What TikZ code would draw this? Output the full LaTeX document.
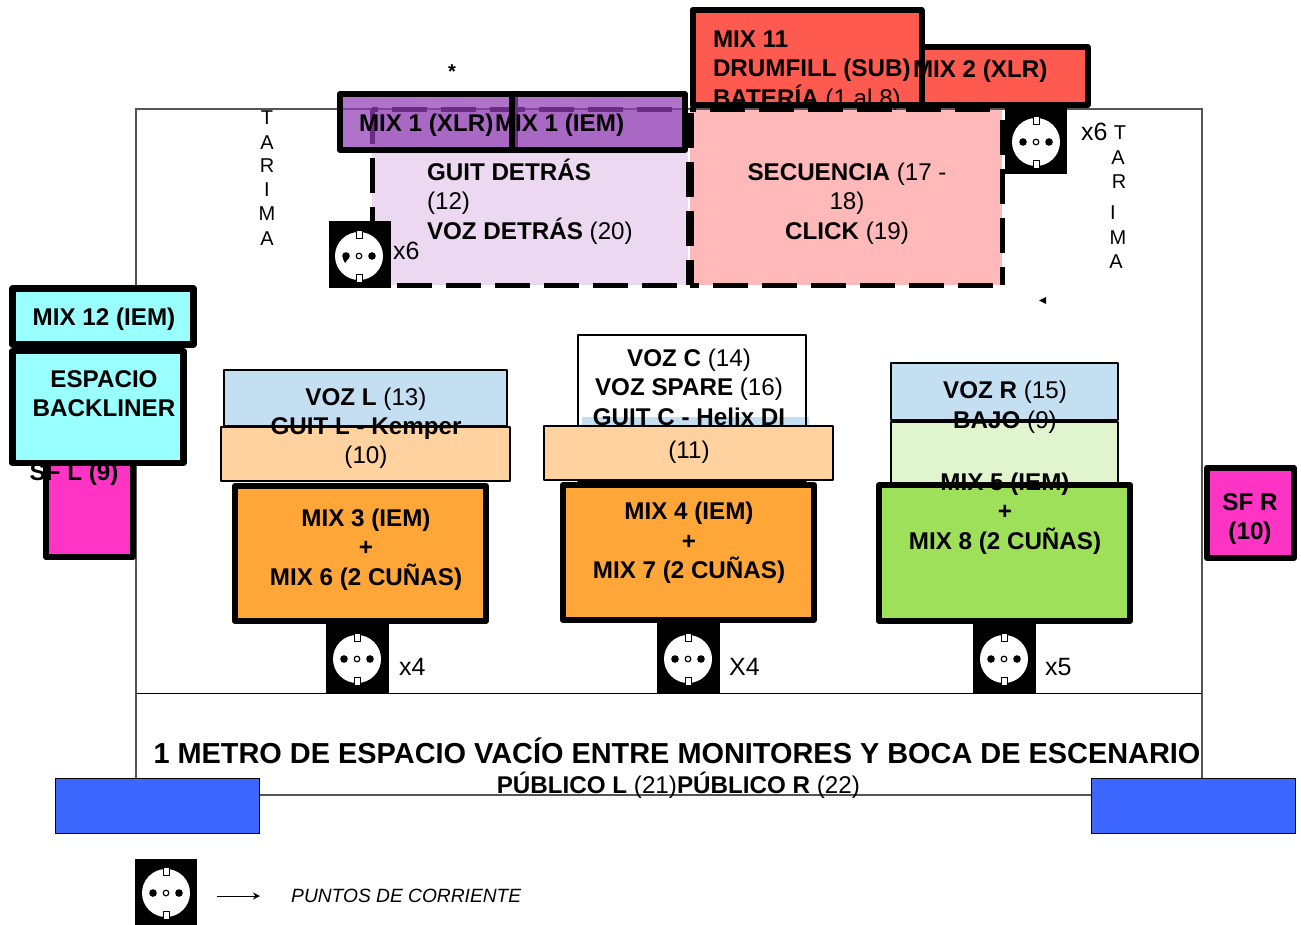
\documentclass[tikz,border=0pt]{standalone}
\usepackage{fontspec}
\setmainfont{Liberation Sans}
\usetikzlibrary{arrows.meta}
\definecolor{stagegray}{HTML}{555555}
\definecolor{lav}{HTML}{ECD9F1}
\definecolor{pinkb}{HTML}{FFB9B9}
\definecolor{purp}{HTML}{923FB5}
\definecolor{redb}{HTML}{FF5A50}
\definecolor{cyanb}{HTML}{99FFFF}
\definecolor{magb}{HTML}{FF33C4}
\definecolor{blueb}{HTML}{C5DFF2}
\definecolor{peach}{HTML}{FFD2A0}
\definecolor{orangeb}{HTML}{FFA638}
\definecolor{lgreen}{HTML}{E0F5CE}
\definecolor{dgreen}{HTML}{9FE05A}
\definecolor{royal}{HTML}{3D66FF}
\newcommand{\outlet}[6]{%
  \fill[black] (#1,#2) rectangle (#3,#4);
  \begin{scope}[shift={(#5,#6)}]
    \fill[white] (0,0) circle[radius=24];
    \path[fill=white,draw=black,line width=.6pt] (-3,-26) rectangle (3,-18);
    \path[fill=white,draw=black,line width=.6pt] (-3,18) rectangle (3,26);
    \fill[black] (-13,0) circle[radius=3.8];
    \fill[black] (13,0) circle[radius=3.8];
    \path[fill=white,draw=black,line width=1.2pt] (0,0) circle[radius=2.8];
  \end{scope}}
\tikzset{
  x=1pt,y=-1pt,
  heavy/.style={draw=black,line width=6pt,line join=round},
  thinbox/.style={draw=black,line width=2pt,line join=round},
  dashbox/.style={draw=black,line width=5pt,dash pattern=on 35pt off 14pt},
  lbl/.style={inner sep=0pt,outer sep=0pt,yshift=-2pt,align=center,font=\fontsize{24.2}{29.5}\selectfont},
  lbll/.style={lbl,align=left},
  tar/.style={inner sep=0pt,font=\fontsize{20}{24}\selectfont},
  cnt/.style={inner sep=0pt,font=\fontsize{25}{29}\selectfont},
}
\begin{document}
\begin{tikzpicture}
\useasboundingbox (0,0) rectangle (1301,924);
\draw[stagegray,line width=1.5pt] (136,109) rectangle (1202,795);
\draw[black,line width=1pt] (136,693) -- (1202,693);

% top red monitors
\path[heavy,fill=redb] (692.5,10) rectangle (921.5,105);
\node[lbll,anchor=north west] (mixeleven) at (713,28.5) {\textbf{MIX 11}\\\textbf{DRUMFILL (SUB)}\\\textbf{BATERÍA} (1 al 8)};
\path[heavy,fill=redb] (921.5,47) rectangle (1087.5,105);
\node[lbl,anchor=west] (mixtwo) at (913,69) {\textbf{MIX 2 (XLR)}};
\draw[heavy,fill=none] (921.5,105) -- (921.5,47);

% outlet top right
\outlet{1005}{103}{1067}{174}{1036}{142}
\node[cnt,anchor=west] (xsixa) at (1081,132) {x6};

% sequencer zone
\fill[pinkb] (690,110) rectangle (1002,285);
\draw[dashbox,dash phase=26pt] (690,285) -- (1002,285);
\draw[dashbox,dash phase=17pt] (1002,285) -- (1002,109);
\draw[dashbox,dash phase=29pt] (690,109) -- (1002,109);
\draw[dashbox,dash phase=10pt] (691,285) -- (691,109);
\node[lbl] (secuencia) at (847,201.5) {\textbf{SECUENCIA} (17 -\\18)\\\textbf{CLICK} (19)};

% guitar zone
\fill[lav] (372,110) rectangle (688,285);
\draw[dashbox,dash phase=24pt] (372,285) -- (688,285);
\draw[dashbox,dash phase=10pt] (688,285) -- (688,109);
\draw[dashbox,dash phase=29pt] (372,109) -- (688,109);
\draw[dashbox,dash phase=6pt] (372,285) -- (372,107);
\node[lbll,anchor=west] (guitdetras) at (427,199.5) {\textbf{GUIT DETRÁS}\\(12)\\\textbf{VOZ DETRÁS} (20)};

% outlet lavender
\outlet{329}{221}{391}{288}{359}{256}
\fill[black] (346,257) -- (343,259) -- (345,263) -- (348,259) -- cycle;
\node[cnt,anchor=west] (xsixb) at (393,251) {x6};

% purple monitors
\path[heavy,fill=purp,fill opacity=.73] (340,94) rectangle (515,150);
\node[lbl,anchor=west] (mixonex) at (359,123) {\textbf{MIX 1 (XLR)}};
\path[heavy,fill=purp,fill opacity=.73] (511.5,94) rectangle (685,150);
\node[lbl,anchor=west] (mixonei) at (495,123) {\textbf{MIX 1 (IEM)}};
\node[inner sep=0pt,font=\fontsize{20}{24}\selectfont\bfseries] (star) at (452,72) {*};

% tarima labels
\node[tar] (ta) at (267,118) {T};
\node[tar] (tb) at (267,143) {A};
\node[tar] (tc) at (267,166) {R};
\node[tar] (td) at (267,190) {I};
\node[tar] (te) at (267,214) {M};
\node[tar] (tf) at (267,239) {A};
\node[tar] (ua) at (1120,133) {T};
\node[tar] (ub) at (1118,158) {A};
\node[tar] (uc) at (1119,182) {R};
\node[tar] (ud) at (1113,213) {I};
\node[tar] (ue) at (1118,238) {M};
\node[tar] (uf) at (1116,262) {A};
\fill[black] (1039,300.5) -- (1046,297) -- (1046,304) -- cycle;

% side left
\path[heavy,fill=magb] (46,463) rectangle (133,557);
\node[lbl] (sfl) at (74,472) {\textbf{SF L (9)}};
\path[heavy,line width=6.5pt,fill=cyanb] (12.5,288.5) rectangle (193.5,344.5);
\node[lbl] (mixtwelve) at (104,317) {\textbf{MIX 12 (IEM)}};
\path[heavy,line width=6.5pt,fill=cyanb] (12.5,351) rectangle (183.5,463);
\node[lbl] (backliner) at (104,391.5) {\textbf{ESPACIO}\\\textbf{BACKLINER}};

% side right
\path[heavy,fill=magb] (1207,468) rectangle (1294,558);
\node[lbl] (sfr) at (1250,517) {\textbf{SF R}\\\textbf{(10)}};

% left group
\path[thinbox,fill=blueb] (224,370) rectangle (507,426);
\node[lbl] (vozl) at (366,397) {\textbf{VOZ L} (13)};
\path[thinbox,fill=peach] (221,427) rectangle (510,481);
\node[lbl] (guitl) at (366,441) {\textbf{GUIT L - Kemper}\\(10)};
\outlet{326}{623}{389}{693}{357}{659}
\node[cnt,anchor=west] (xfoura) at (399,667) {x4};
\path[heavy,fill=orangeb] (235,486) rectangle (486,621);
\node[lbl] (mixthree) at (366,547.5) {\textbf{MIX 3 (IEM)}\\\textbf{+}\\\textbf{MIX 6 (2 CUÑAS)}};

% centre group
\fill[white] (578,334) rectangle (806,481);
\fill[blueb] (582,417) rectangle (809,426);
\draw[thinbox] (578,335) rectangle (806,481);
\path[thinbox,fill=peach] (544,426) rectangle (833,480);
\node[lbl,anchor=north] (vozc) at (689,346.5) {\textbf{VOZ C} (14)\\\textbf{VOZ SPARE} (16)\\\textbf{GUIT C - Helix DI}};
\node[lbl] (guitc) at (689,450) {(11)};
\outlet{657}{623}{720}{693}{688}{659}
\node[cnt,anchor=west] (xfourb) at (729,667) {X4};
\path[heavy,fill=orangeb] (563,485) rectangle (814,620);
\node[lbl] (mixfour) at (689,541) {\textbf{MIX 4 (IEM)}\\\textbf{+}\\\textbf{MIX 7 (2 CUÑAS)}};

% right group
\path[thinbox,fill=blueb] (891,363) rectangle (1118,420);
\node[lbl] (vozr) at (1005,390) {\textbf{VOZ R} (15)};
\path[thinbox,fill=lgreen] (891,422) rectangle (1118,490);
\node[lbl] (bajo) at (1005,420) {\textbf{BAJO} (9)};
\outlet{973}{623}{1036}{693}{1004}{659}
\node[cnt,anchor=west] (xfive) at (1045,667) {x5};
\path[heavy,fill=dgreen] (879,485) rectangle (1130,621);
\node[lbl] (mixfive) at (1005,511.5) {\textbf{MIX 5 (IEM)}\\\textbf{+}\\\textbf{MIX 8 (2 CUÑAS)}};

% bottom
\path[draw=black,line width=1pt,fill=royal] (55.5,778.5) rectangle (259.5,833.5);
\path[draw=black,line width=1pt,fill=royal] (1091.5,778.5) rectangle (1295.5,833.5);
\node[lbl,font=\fontsize{28.9}{32}\selectfont\bfseries] (metro) at (677,749) {1 METRO DE ESPACIO VACÍO ENTRE MONITORES Y BOCA DE ESCENARIO};
\node[lbl,anchor=east] (publ) at (677,783) {\textbf{PÚBLICO L} (21)};
\node[lbl,anchor=west] (pubr) at (677,783) {\textbf{PÚBLICO R} (22)};

% legend
\outlet{135}{859}{197}{930}{166}{893}
\coordinate (arrowfrom) at (217,896);
\coordinate (arrowto) at (260,896);
\draw[black,line width=1pt,-{Stealth[length=7pt,width=7pt]}] (arrowfrom) -- (arrowto);
\node[inner sep=0pt,anchor=west,font=\fontsize{19.2}{24}\selectfont\itshape] (puntos) at (291,896) {PUNTOS DE CORRIENTE};
\end{tikzpicture}
\end{document}
